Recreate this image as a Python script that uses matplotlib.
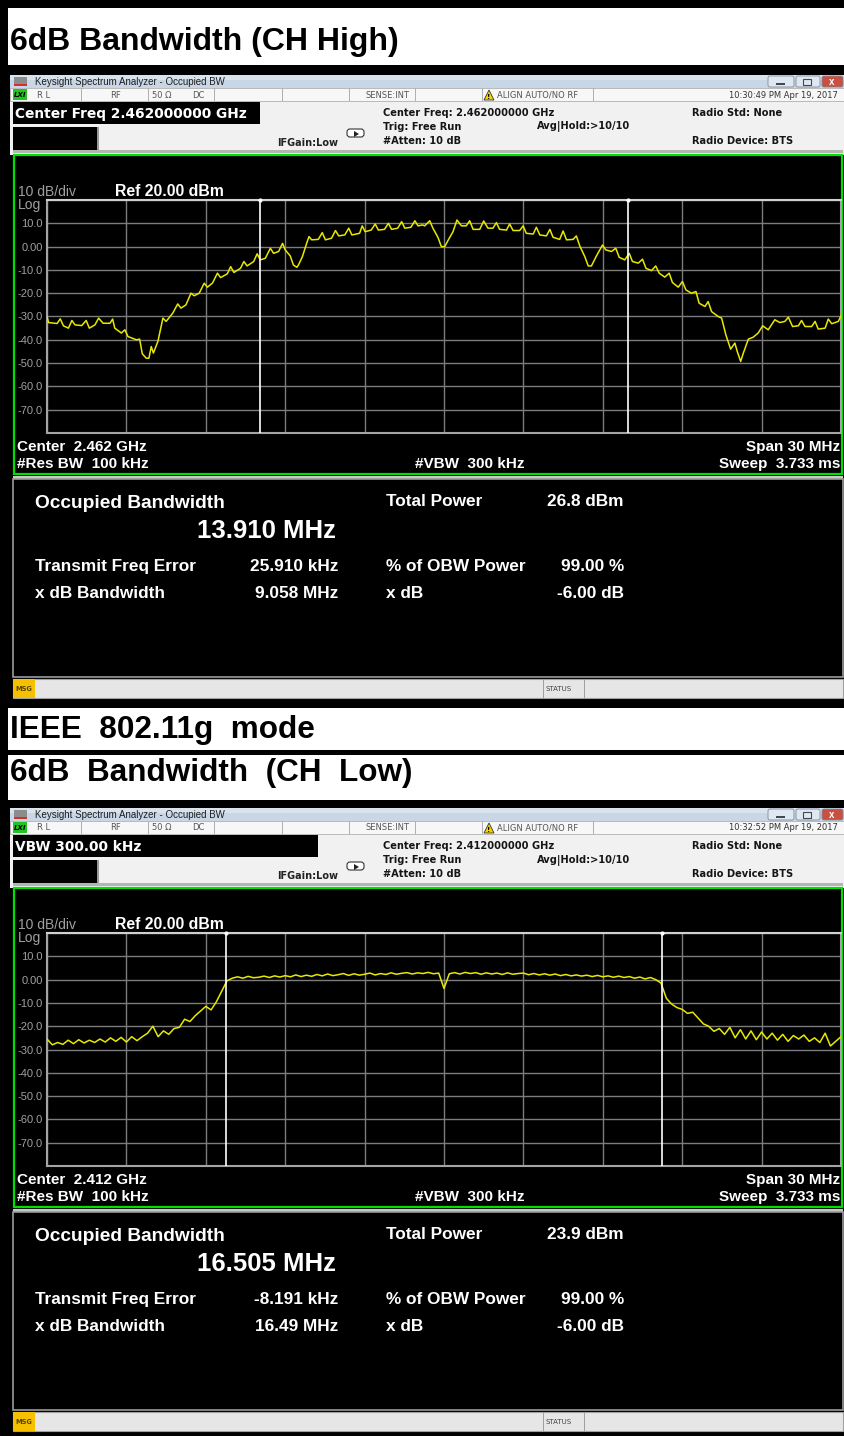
import numpy as np
import matplotlib
matplotlib.use("Agg")
import matplotlib.pyplot as plt
from matplotlib.patches import Rectangle, Polygon, FancyBboxPatch

plt.rcParams["font.family"] = ["Liberation Sans", "DejaVu Sans"]

W, H = 845, 1436
SHIFT = 733          # the CH Low screenshot sits this many px below the CH High one
SPAN_MHZ = 30.0
REF_DBM, DB_DIV = 20.0, 10.0

# ---- CH High trace (offset from 2.462 GHz, MHz / dBm)
high_freq = [
    -15.0, -14.94, -14.62, -14.5, -14.38, -14.19, -14.06, -13.94, -13.69, -13.52,
    -13.4, -13.19, -13.05, -12.88, -12.62, -12.52, -12.44, -12.19, -12.06, -11.94,
    -11.62, -11.5, -11.4, -11.25, -11.15, -11.06, -10.98, -10.81, -10.62, -10.5,
    -10.25, -10.06, -9.94, -9.75, -9.56, -9.44, -9.25, -9.06, -8.94, -8.75,
    -8.56, -8.44, -8.19, -8.06, -7.94, -7.69, -7.56, -7.44, -7.19, -7.06,
    -6.94, -6.75, -6.56, -6.44, -6.25, -6.1, -6.0, -5.81, -5.69, -5.56,
    -5.5, -5.35, -5.19, -5.1, -5.0, -4.75, -4.6, -4.48, -4.25, -4.1,
    -3.98, -3.75, -3.6, -3.48, -3.19, -3.09, -2.98, -2.75, -2.6, -2.48,
    -2.25, -2.1, -1.98, -1.75, -1.6, -1.48, -1.25, -1.1, -0.98, -0.81,
    -0.73, -0.54, -0.42, -0.23, -0.1, 0.03, 0.15, 0.34, 0.49, 0.66,
    0.84, 0.97, 1.1, 1.35, 1.5, 1.66, 1.85, 1.98, 2.1, 2.36,
    2.48, 2.61, 2.86, 2.99, 3.11, 3.37, 3.49, 3.62, 3.87, 4.0,
    4.12, 4.37, 4.5, 4.63, 4.88, 5.0, 5.13, 5.32, 5.45, 5.57,
    5.76, 5.99, 6.11, 6.33, 6.49, 6.62, 6.83, 7.0, 7.12, 7.34,
    7.5, 7.63, 7.84, 8.0, 8.13, 8.34, 8.51, 8.63, 8.85, 9.01,
    9.14, 9.35, 9.52, 9.64, 9.86, 9.98, 10.11, 10.36, 10.49, 10.65,
    10.83, 10.99, 11.08, 11.21, 11.31, 11.5, 11.68, 11.87, 12.04, 12.25,
    12.5, 12.69, 12.88, 13.01, 13.17, 13.39, 13.51, 13.64, 13.89, 14.02,
    14.14, 14.4, 14.52, 14.65, 14.9, 15.0,
]
high_level = [
    -30.0, -32.6, -33.0, -31.0, -34.0, -35.0, -31.7, -33.6, -33.9, -31.7,
    -35.0, -33.6, -30.7, -32.9, -32.9, -31.1, -35.0, -37.1, -35.7, -38.6,
    -40.0, -39.7, -46.0, -47.9, -47.9, -42.9, -45.7, -40.7, -30.7, -32.1,
    -28.6, -24.6, -26.4, -25.0, -20.0, -21.1, -20.0, -15.7, -17.4, -15.7,
    -11.4, -13.3, -11.7, -8.6, -11.1, -9.3, -6.4, -8.3, -6.4, -3.1,
    -5.7, -5.0, -0.7, -2.9, -2.1, 1.4, -1.4, -4.0, -7.9, -8.9,
    -7.9, -4.3, 1.4, 4.3, 2.9, 3.1, 6.0, 2.9, 3.6, 6.9,
    4.6, 5.0, 7.9, 5.0, 5.7, 8.9, 6.4, 7.1, 9.7, 7.1,
    7.4, 10.0, 7.4, 7.9, 10.7, 7.9, 8.3, 11.1, 8.9, 9.3,
    8.9, 11.1, 7.9, 4.0, 0.0, 0.0, 2.6, 6.4, 11.4, 8.9,
    8.9, 11.1, 7.4, 7.4, 11.0, 7.9, 7.9, 10.3, 7.4, 7.1,
    9.7, 6.9, 6.9, 8.9, 5.7, 5.4, 8.3, 5.0, 4.6, 7.4,
    4.0, 3.1, 6.7, 2.9, 3.1, 4.6, 0.3, -4.3, -8.3, -8.3,
    -4.0, 0.7, -1.4, -2.1, -0.7, -4.6, -5.7, -2.9, -6.4, -7.1,
    -5.4, -9.3, -10.3, -8.3, -11.4, -13.1, -11.4, -15.4, -17.4, -15.0,
    -18.6, -20.0, -19.3, -24.3, -25.7, -23.6, -27.9, -30.0, -30.7, -37.9,
    -44.0, -41.4, -45.0, -49.3, -45.7, -39.7, -38.9, -37.1, -34.0, -35.7,
    -31.4, -32.6, -32.1, -30.3, -34.3, -34.0, -31.7, -34.3, -34.3, -32.1,
    -35.4, -35.0, -31.1, -33.1, -32.1, -29.7,
]

# ---- CH Low trace, one reading every 0.2 MHz across the 30 MHz span
LOW_STEP_MHZ = 0.2
low_level = [
    -25.5, -28.0, -27.0, -27.8, -26.0, -27.5, -25.8, -27.2, -26.0, -27.0,
    -25.5, -26.8, -25.0, -26.5, -24.8, -26.8, -24.5, -26.2, -24.5, -23.0,
    -20.0, -24.5, -22.0, -23.5, -21.0, -20.5, -17.0, -18.0, -15.5, -13.5,
    -11.5, -13.0, -9.5, -5.0, -0.5, 0.6, 1.2, 0.6, 1.4, 0.8,
    1.0, 1.5, 0.9, 1.6, 1.1, 1.7, 1.2, 2.0, 1.3, 1.9,
    1.4, 2.2, 1.6, 2.4, 1.7, 2.1, 2.6, 1.8, 2.5, 1.9,
    2.3, 2.8, 2.0, 2.6, 2.2, 2.9, 2.3, 2.7, 3.0, 2.4,
    2.9, 2.6, 3.1, 2.5, 2.8, -3.8, 2.5, 3.0, 2.4, 3.1,
    2.6, 3.0, 2.3, 2.9, 2.4, 2.8, 2.2, 2.9, 2.3, 2.6,
    2.8, 2.1, 2.6, 2.0, 2.5, 1.9, 2.4, 1.7, 2.2, 1.6,
    2.0, 1.5, 1.9, 1.3, 1.8, 1.2, 1.6, 1.0, 1.5, 0.9,
    1.3, 0.6, 1.1, 0.3, 0.9, 0.0, -1.5, -8.0, -10.5, -12.0,
    -12.8, -14.5, -14.0, -16.5, -19.0, -20.0, -22.2, -21.0, -23.5, -20.5,
    -25.0, -21.5, -25.5, -22.0, -25.8, -22.5, -25.5, -23.0, -26.0, -23.5,
    -26.5, -24.0, -25.5, -23.8, -26.5, -25.0, -27.0, -23.0, -28.5, -26.5,
    -24.5,
]
low_freq = np.arange(len(low_level)) * LOW_STEP_MHZ - SPAN_MHZ / 2

# ---- readouts
titles = ["6dB Bandwidth (CH High)", "IEEE  802.11g  mode", "6dB  Bandwidth  (CH  Low)"]
obw_mhz = [13.910, 16.505]
active_fn = ["Center Freq 2.462000000 GHz", "VBW 300.00 kHz"]
center_freq = ["2.462000000 GHz", "2.412000000 GHz"]
center_short = ["2.462 GHz", "2.412 GHz"]
stamps = ["10:30:49 PM Apr 19, 2017", "10:32:52 PM Apr 19, 2017"]
freq_error = ["25.910 kHz", "-8.191 kHz"]
xdb_bw = ["9.058 MHz", "16.49 MHz"]
total_power = ["26.8 dBm", "23.9 dBm"]
obw_power = ["99.00 %", "99.00 %"]
xdb = ["-6.00 dB", "-6.00 dB"]
db_labels = ["", "-70.0", "-60.0", "-50.0", "-40.0", "-30.0", "-20.0", "-10.0", "0.00", "10.0", ""]

fig = plt.figure(figsize=(W / 100, H / 100), dpi=100)
fig.patch.set_facecolor("black")
bg = fig.add_axes([0, 0, 1, 1])
bg.set_xlim(0, W); bg.set_ylim(H, 0); bg.axis("off")


def box(x, y, w, h, fc, ec="none", lw=0, z=1):
    bg.add_patch(Rectangle((x, y), w, h, facecolor=fc, edgecolor=ec, linewidth=lw, zorder=z))


def txt(x, y, s, size, color="white", weight="bold", ha="left", va="baseline", family=None, **kw):
    kw = dict(kw)
    if family:
        kw["family"] = family
    bg.text(x, y, s, fontsize=size, color=color, fontweight=weight, ha=ha, va=va, zorder=5, **kw)


# white caption bands
box(8, 8, 837, 57, "white")
txt(10, 50, titles[0], 23, "black")
box(8, 708, 837, 42, "white")
txt(10, 738, titles[1], 22.7, "black")
box(8, 755, 837, 45, "white")
txt(10, 781, titles[2], 22.7, "black")

DV = ["DejaVu Sans"]


def draw_screen(k, dy, freq, level):
    # window title bar
    box(10, 75 + dy, 835, 13, "#c9d6e5")
    box(10, 75 + dy, 835, 5, "#d9e3ee")
    box(14, 77 + dy, 13, 9, "#8c8c8c")
    box(14, 84 + dy, 13, 2, "#d03030")
    txt(35, 82 + dy, "Keysight Spectrum Analyzer - Occupied BW", 7, "#1e1e1e",
        weight="normal", va="center")
    for x0, w0, fc in [(768, 26, "#dfe7f1"), (796, 24, "#dfe7f1"), (822, 21, "#c9503f")]:
        bg.add_patch(FancyBboxPatch((x0, 76 + dy), w0, 11, boxstyle="round,pad=0,rounding_size=2",
                                    facecolor=fc, edgecolor="#7c8ba0", linewidth=0.6, zorder=3))
    box(776, 83 + dy, 9, 2, "#404850", z=4)
    box(803, 79 + dy, 8, 6, "none", "#404850", 0.8, z=4)
    txt(832, 82 + dy, "x", 7, "white", va="center", ha="center")

    # status row + header
    box(10, 88 + dy, 835, 67, "#f1f1f1")
    box(10, 88 + dy, 835, 13, "#f7f7f7", "#b0b0b0", 0.6)
    for xs in [81, 148, 214, 282, 349, 415, 482, 593]:
        box(xs, 88 + dy, 0.8, 13, "#b0b0b0", z=2)
    box(13, 89 + dy, 14, 11, "#22c422", z=2)
    txt(14, 95 + dy, "LXI", 5, "black", va="center", style="italic", family=DV)
    for xs, s in [(37, "R L"), (110, "RF"), (152, "50 Ω"), (192, "DC"), (366, "SENSE:INT")]:
        txt(xs, 95 + dy, s, 6, "#555555", weight="normal", va="center", family=DV)
    bg.add_patch(Polygon([(484, 100 + dy), (494, 100 + dy), (489, 90 + dy)], closed=True,
                         facecolor="#f2d400", edgecolor="#333333", linewidth=0.6, zorder=3))
    txt(489, 97 + dy, "!", 5, "black", ha="center", va="center", family=DV)
    txt(497, 95 + dy, "ALIGN AUTO/NO RF", 6, "#555555", weight="normal", va="center", family=DV)
    txt(838, 95 + dy, stamps[k], 6, "#333333", weight="normal", ha="right", va="center", family=DV)

    box_w = 247 if k == 0 else 305
    box(13, 102 + dy, box_w, 22, "black", z=2)
    txt(15, 118 + dy, active_fn[k], 9.9, "white", family=DV)
    box(13, 127 + dy, 84, 23, "black", z=2)
    box(97, 127 + dy, 2, 24, "#9a9a9a", z=2)
    box(13, 150 + dy, 830, 3, "#b4b4b4", z=2)
    txt(277, 143 + dy, "IFGain:Low", 7, "#222222", va="center", family=DV)
    bg.add_patch(FancyBboxPatch((347, 129 + dy), 17, 8, boxstyle="round,pad=0,rounding_size=3",
                                facecolor="white", edgecolor="#333333", linewidth=0.8, zorder=3))
    bg.add_patch(Polygon([(354, 131 + dy), (354, 137 + dy), (359, 134 + dy)], closed=True,
                         facecolor="#222222", zorder=4))
    hdr = dict(size=7.1, color="#151515", va="center", family=DV)
    txt(383, 113 + dy, "Center Freq: " + center_freq[k], **hdr)
    txt(383, 127 + dy, "Trig: Free Run", **hdr)
    txt(383, 141 + dy, "#Atten: 10 dB", **hdr)
    txt(537, 127 + dy, "Avg|Hold:>10/10", **hdr)
    txt(692, 113 + dy, "Radio Std: None", **hdr)
    txt(692, 141 + dy, "Radio Device: BTS", **hdr)

    # measurement window
    box(14, 155 + dy, 828, 319, "black", "#00e000", 1.6, z=2)
    txt(18, 196 + dy, "10 dB/div", 10, "#a0a0a0", weight="normal")
    txt(115, 196 + dy, "Ref 20.00 dBm", 11.4, "white")
    txt(18, 209 + dy, "Log", 10, "#a0a0a0", weight="normal")
    txt(17, 451 + dy, "Center  " + center_short[k], 11, "white")
    txt(17, 468 + dy, "#Res BW  100 kHz", 11, "white")
    txt(415, 468 + dy, "#VBW  300 kHz", 11, "white")
    txt(840, 451 + dy, "Span 30 MHz", 11, "white", ha="right")
    txt(840, 468 + dy, "Sweep  3.733 ms", 11, "white", ha="right")

    ax = fig.add_axes([47 / W, 1 - (433 + dy) / H, (841 - 47) / W, 233 / H])
    ax.set_facecolor("black")
    ax.set_xlim(-SPAN_MHZ / 2, SPAN_MHZ / 2)
    ax.set_ylim(REF_DBM - 10 * DB_DIV, REF_DBM)
    ax.set_xticks(np.linspace(-SPAN_MHZ / 2, SPAN_MHZ / 2, 11))
    ax.set_yticks(np.arange(REF_DBM - 10 * DB_DIV, REF_DBM + 1, DB_DIV))
    ax.set_xticklabels([])
    ax.set_yticklabels(db_labels)
    ax.tick_params(length=0, pad=3, labelsize=8, labelcolor="#a0a0a0")
    ax.grid(True, color="#7c7c7c", lw=1)
    ax.set_axisbelow(True)
    for name, sp in ax.spines.items():
        sp.set_color("#d0d0d0" if name == "top" else "#a4a4a4")
        sp.set_linewidth(1.5)
    ax.plot(freq, level, color="#e8e800", lw=1.1, zorder=3)
    for m in (-obw_mhz[k] / 2, obw_mhz[k] / 2):
        ax.axvline(m, color="white", lw=1.2, zorder=4)
        ax.plot([m], [REF_DBM], "o", ms=2, color="white", clip_on=False, zorder=5)

    # results panel
    box(13, 476 + dy, 830, 3, "#c8c8c8", z=2)
    box(13, 479 + dy, 830, 198, "black", "#9a9a9a", 1.2, z=2)
    txt(35, 508 + dy, "Occupied Bandwidth", 13.8, "white")
    txt(197, 538 + dy, f"{obw_mhz[k]:.3f} MHz", 18.5, "white")
    txt(35, 571 + dy, "Transmit Freq Error", 12.4, "white")
    txt(338, 571 + dy, freq_error[k], 12.4, "white", ha="right")
    txt(35, 598 + dy, "x dB Bandwidth", 12.4, "white")
    txt(338, 598 + dy, xdb_bw[k], 12.4, "white", ha="right")
    txt(386, 506 + dy, "Total Power", 12.4, "white")
    txt(624, 506 + dy, total_power[k], 12.4, "white", ha="right")
    txt(386, 571 + dy, "% of OBW Power", 12.4, "white")
    txt(624, 571 + dy, obw_power[k], 12.4, "white", ha="right")
    txt(386, 598 + dy, "x dB", 12.4, "white")
    txt(624, 598 + dy, xdb[k], 12.4, "white", ha="right")

    # status bar
    box(13, 679 + dy, 830, 19, "#e6e6e6", "#a0a0a0", 0.8, z=2)
    box(13, 679 + dy, 22, 19, "#f5c000", z=3)
    txt(15, 689 + dy, "MSG", 4.8, "#5a4400", va="center", family=DV)
    box(543, 679 + dy, 0.8, 19, "#a0a0a0", z=3)
    box(584, 679 + dy, 0.8, 19, "#a0a0a0", z=3)
    txt(546, 689 + dy, "STATUS", 5, "#444444", weight="normal", va="center", family=DV)


draw_screen(0, 0, high_freq, high_level)
draw_screen(1, SHIFT, low_freq, low_level)

fig.savefig("out.png", dpi=100, facecolor="black")
